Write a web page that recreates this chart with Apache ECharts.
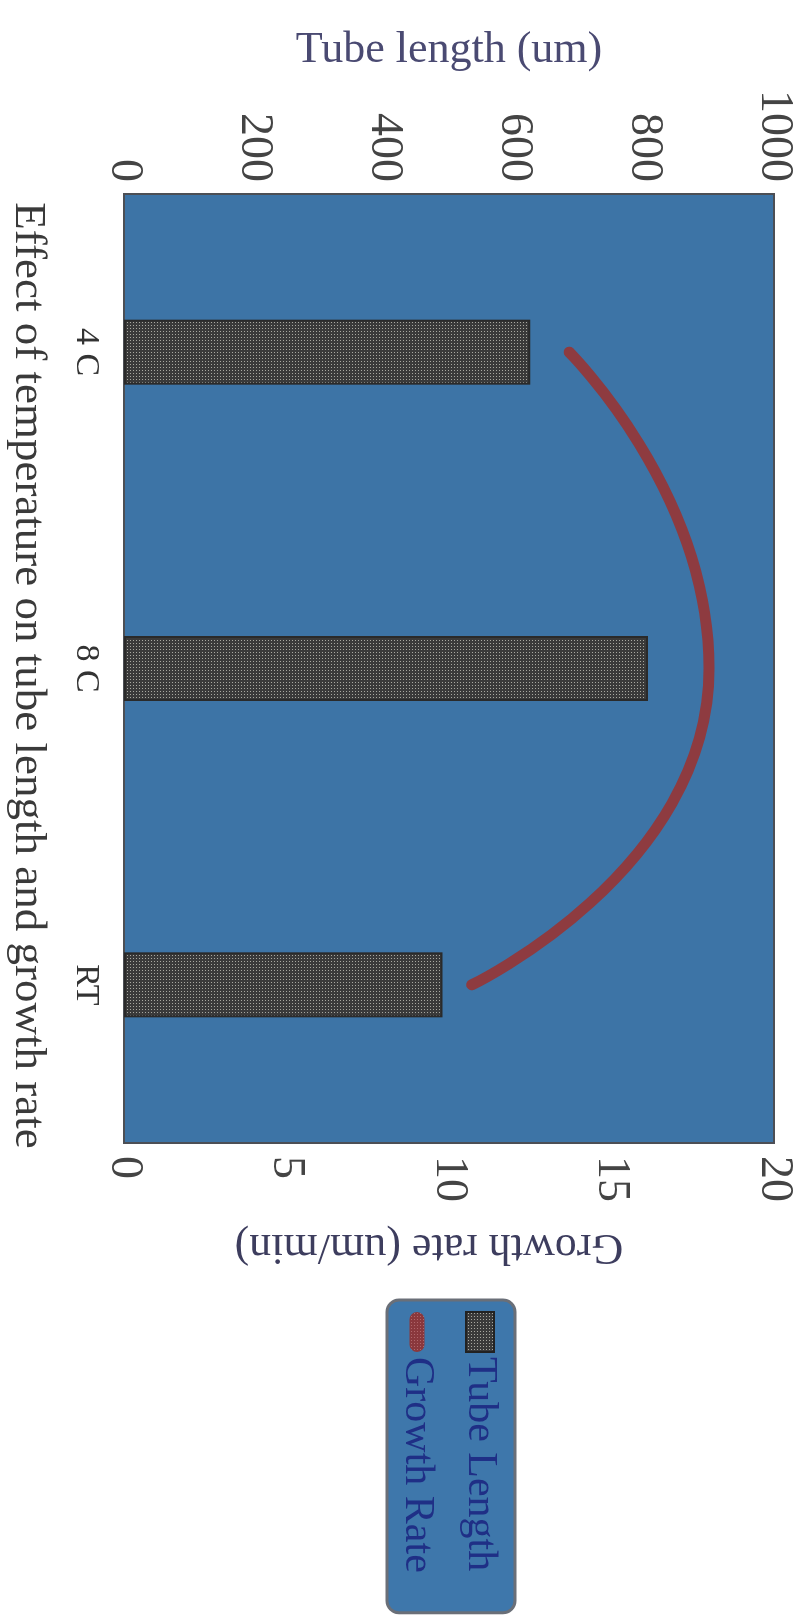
<!DOCTYPE html>
<html>
<head>
<meta charset="utf-8">
<script src="https://cdn.jsdelivr.net/npm/echarts@6/dist/echarts.min.js"></script>
<style>
  html, body { margin: 0; padding: 0; background: #ffffff; overflow: hidden; }
  #wrap { position: relative; width: 801px; height: 1622px; overflow: hidden; }
  /* the chart is laid out landscape and turned a quarter turn clockwise */
  #chart {
    position: absolute; left: 0; top: 0;
    width: 1622px; height: 801px;
    transform-origin: 0 0;
    transform: translate(801px, 0) rotate(90deg);
  }
</style>
</head>
<body>
<div id="wrap"><div id="chart"></div></div>
<script>
// ---- data ----
const categories = ['4 C', '8 C', 'RT'];
const tubeLength = [625, 806, 490];      // um
const growthRate = [13.7, 18.0, 10.7];   // um/min
const seriesNames = ['Tube Length', 'Growth Rate'];
const axisTitles = {
  x: 'Effect of temperature on tube length and growth rate',
  left: 'Tube length (um)',
  right: 'Growth rate (um/min)'
};

// ---- fill textures ----
function dotPattern(bg, dot, size) {
  const c = document.createElement('canvas');
  c.width = size; c.height = size;
  const g = c.getContext('2d');
  g.fillStyle = bg; g.fillRect(0, 0, size, size);
  g.fillStyle = dot; g.fillRect(1, 1, 1, 1);
  return { image: c, repeat: 'repeat' };
}
const barFill = dotPattern('#3a3a3a', '#a8a8a0', 3);
const lineFill = dotPattern('#8a383d', '#b0666a', 3);
const lineColor = '#8e3b40';

// legend key for the line: a short thick rounded stroke inside a 40x28 box
const lineKey = 'path://M0,0L0.01,0ZM0,28L0.01,28Z' +
  'M5,5H35A9,9 0 0 1 35,23H5A9,9 0 0 1 5,5Z';

const serif = '"Liberation Serif", "DejaVu Serif", serif';

const chart = echarts.init(document.getElementById('chart'), null, { renderer: 'canvas' });
chart.setOption({
  animation: false,
  backgroundColor: '#ffffff',
  grid: {
    left: 194, right: 479, top: 27, bottom: 120,
    show: true,
    backgroundColor: '#3d74a6',
    borderColor: '#4c4f55',
    borderWidth: 2
  },
  legend: {
    orient: 'vertical',
    left: 1300, top: 286,
    padding: [14, 40, 9, 11],
    backgroundColor: '#3e77ab',
    borderColor: '#6a6f78',
    borderWidth: 3,
    borderRadius: 12,
    itemWidth: 40, itemHeight: 28, itemGap: 21,
    textStyle: { fontFamily: serif, fontSize: 42, color: '#1f2f86', lineHeight: 42 },
    data: [
      { name: seriesNames[0], icon: 'rect', itemStyle: { color: barFill, borderColor: '#222', borderWidth: 2 } },
      { name: seriesNames[1], icon: lineKey, itemStyle: { color: lineFill, borderWidth: 0 } }
    ]
  },
  xAxis: {
    type: 'category',
    data: categories,
    name: axisTitles.x,
    nameLocation: 'middle',
    nameGap: 74,
    nameTextStyle: { fontFamily: serif, fontSize: 45, color: '#3a3a3a', padding: [0, 0, 0, 14] },
    axisLine: { show: false },
    axisTick: { show: false },
    axisLabel: { fontFamily: serif, fontSize: 34, color: '#333333', margin: 21 }
  },
  yAxis: [
    {
      type: 'value', min: 0, max: 1000, interval: 200,
      position: 'left',
      name: axisTitles.left,
      nameLocation: 'middle',
      nameGap: 122,
      nameTextStyle: { fontFamily: serif, fontSize: 44, color: '#4a4a72' },
      axisLine: { show: false },
      axisTick: { show: false },
      splitLine: { show: false },
      axisLabel: { fontFamily: serif, fontSize: 46, color: '#444444', margin: 12, formatter: v => String(v) }
    },
    {
      type: 'value', min: 0, max: 20, interval: 5,
      position: 'right',
      name: axisTitles.right,
      nameLocation: 'middle',
      nameRotate: -90,
      nameGap: 82,
      nameTextStyle: { fontFamily: serif, fontSize: 44, color: '#3d3d5e', padding: [0, 0, 0, 40] },
      axisLine: { show: false },
      axisTick: { show: false },
      splitLine: { show: false },
      axisLabel: { fontFamily: serif, fontSize: 46, color: '#444444', margin: 13 }
    }
  ],
  series: [
    {
      name: seriesNames[0],
      type: 'bar',
      yAxisIndex: 0,
      data: tubeLength,
      barWidth: 65,
      itemStyle: { color: barFill, borderColor: '#2a2a2a', borderWidth: 2 }
    },
    {
      name: seriesNames[1],
      type: 'line',
      yAxisIndex: 1,
      data: growthRate,
      smooth: 0.6,
      showSymbol: false,
      symbol: 'none',
      lineStyle: { color: lineColor, width: 11, cap: 'round' },
      itemStyle: { color: lineFill }
    }
  ]
});
</script>
</body>
</html>
